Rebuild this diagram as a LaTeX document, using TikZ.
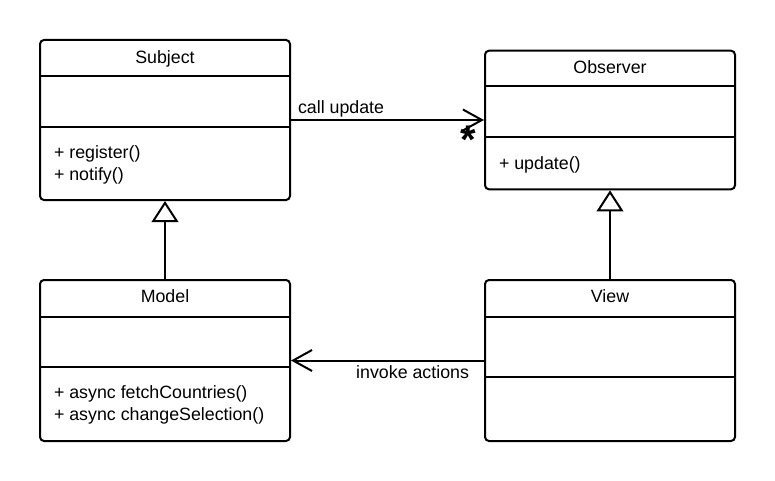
\documentclass[tikz,border=0pt]{standalone}
\usepackage{fontspec}
\setmainfont{Liberation Sans}
\usetikzlibrary{arrows.meta}

\begin{document}
\begin{tikzpicture}
  [x=1pt, y=-1pt, line width=2pt,
   cls/.style={draw, rounded corners=4pt, minimum width=250pt, inner sep=0pt},
   txt/.style={font=\fontsize{17.8}{22.3}\selectfont, inner sep=0pt},
   ops/.style={txt, align=left, anchor=base west},
   assoc/.style={-{Straight Barb[length=19pt, width=21pt]}},
   inherit/.style={-{Triangle[open, length=21pt, width=26.6pt]}}]
  \useasboundingbox (0,0) rectangle (775,481);

  \node[cls, minimum height=160pt] (subject) at (165, 120) {};
  \node[cls, minimum height=138.6pt] (observer) at (610, 120) {};
  \node[cls, minimum height=161pt] (model) at (165, 360.5) {};
  \node[cls, minimum height=161pt] (view) at (610, 360.5) {};

  \foreach \c/\a/\b in {subject/37.3/87.7, observer/36.6/87.6, model/37.7/88.3, view/37.7/98.3}
  \draw ([yshift=-\a pt]\c.north west) -- ([yshift=-\a pt]\c.north east)
        ([yshift=-\b pt]\c.north west) -- ([yshift=-\b pt]\c.north east);

  \node[txt, anchor=base] (subject name) at (165, 63.3) {Subject};
  \node[txt, anchor=base] (observer name) at (610, 73.3) {Observer};
  \node[txt, anchor=base] (model name) at (165, 302.7) {Model};
  \node[txt, anchor=base] (view name) at (610, 302.7) {View};

  % base of a two-line node is its last line
  \node[ops] (subject ops) at (53, 180.3) {+ register()\\+ notify()};
  \node[ops] (observer ops) at (498, 169) {+ update()};
  \node[ops] (model ops) at (53, 420.6) {+ async fetchCountries()\\+ async changeSelection()};

  \draw[assoc] (subject) -- (observer);
  \draw[assoc] (view) -- (model);
  \foreach \from/\to in {model/subject, view/observer}
  \draw[inherit] (\from) -- (\to);

  \node[txt, anchor=base west] (call) at (297, 113.3) {call update};
  \node[txt, anchor=base east] (invoke) at (470, 378.3) {invoke actions};
  \node[inner sep=0pt, font=\fontsize{40}{40}\selectfont\bfseries] (many) at (468, 139.7) {*};
\end{tikzpicture}
\end{document}
